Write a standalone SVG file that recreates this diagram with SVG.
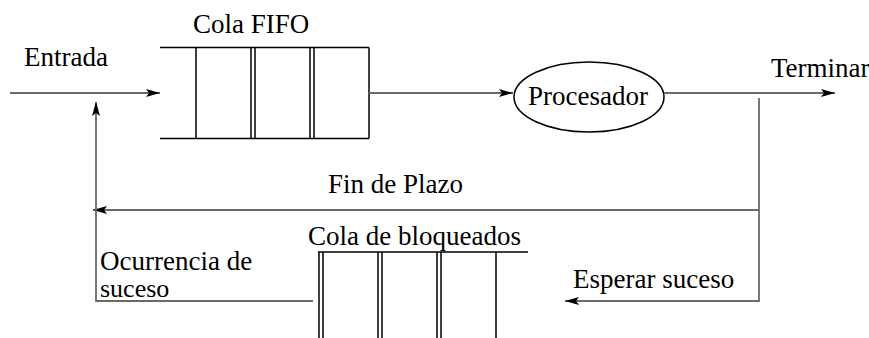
<svg xmlns="http://www.w3.org/2000/svg" width="869" height="338" viewBox="0 0 869 338">
<style>
.c{fill:none;stroke:#6a6a6a;stroke-width:1.8}
.q{fill:none;stroke:#000;stroke-width:1.5}
</style>
<defs>
<marker id="ah" markerWidth="14" markerHeight="8" refX="14" refY="4" orient="auto" markerUnits="userSpaceOnUse">
<path d="M0,0 L14,4 L0,8 L3,4 Z" fill="#000"/>
</marker>
</defs>
<rect width="869" height="338" fill="#fff"/>
<g font-family="Liberation Serif, DejaVu Serif, serif" font-size="27" fill="#000">
<g id="fifo">
<text x="193" y="33">Cola FIFO</text>
<path class="q" d="M160,47.5 H369 M160,138.5 H369 M196,47.5 V138.5 M251,47.5 V138.5 M255,47.5 V138.5 M310,47.5 V138.5 M314,47.5 V138.5 M369,47.5 V138.5"/>
</g>
<g id="procesador">
<ellipse cx="589" cy="97" rx="75" ry="35" fill="none" stroke="#000" stroke-width="1.5"/>
<text x="528" y="105">Procesador</text>
</g>
<g id="bloqueados">
<text x="308" y="245">Cola de bloqueados</text>
<path class="q" d="M318,252 H528 M319,252 V338 M323,252 V338 M378,252 V338 M382,252 V338 M437,252 V338 M441,252 V338 M496,252 V338"/>
</g>
<g id="connectors">
<path class="c" d="M10,93 H160" marker-end="url(#ah)"/>
<path class="c" d="M369,93 H513" marker-end="url(#ah)"/>
<path class="c" d="M664,93 H835" marker-end="url(#ah)"/>
<path class="c" d="M759,98 V301 H565" marker-end="url(#ah)"/>
<path class="c" d="M759,210 H93" marker-end="url(#ah)"/>
<path class="c" d="M313,301 H96 V102" marker-end="url(#ah)"/>
</g>
<g id="labels">
<text x="24" y="66">Entrada</text>
<text x="771" y="77">Terminar</text>
<text x="328" y="193">Fin de Plazo</text>
<text x="573" y="288">Esperar suceso</text>
<text x="100" y="270">Ocurrencia de</text>
<text x="100" y="297" font-size="26">suceso</text>
</g>
</g>
</svg>
